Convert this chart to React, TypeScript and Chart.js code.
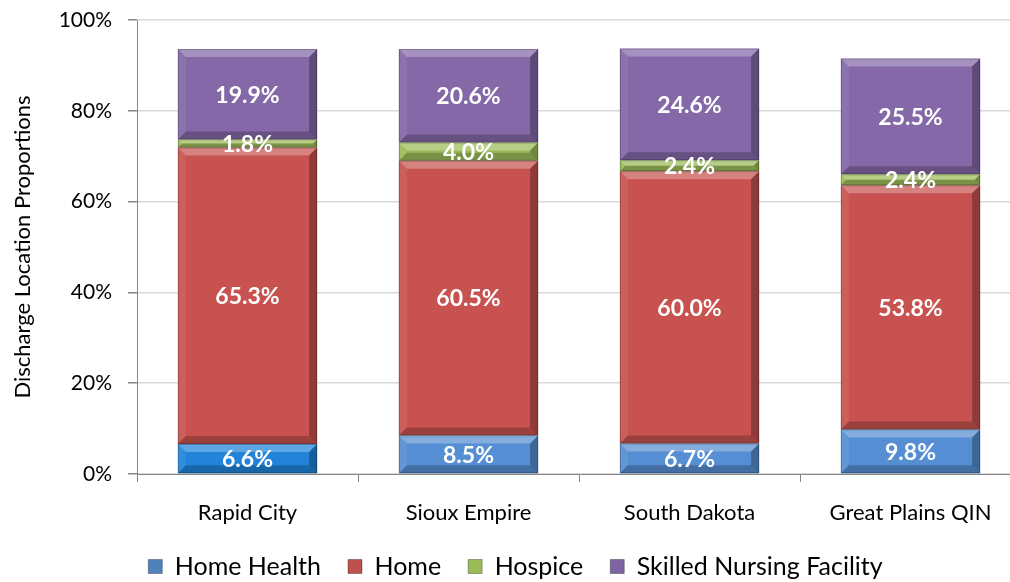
import React, { useEffect, useRef } from "react";
import { Chart, registerables } from "chart.js";

Chart.register(...registerables);

const categories = ["Rapid City", "Sioux Empire", "South Dakota", "Great Plains QIN"];
const seriesNames = ["Home Health", "Home", "Hospice", "Skilled Nursing Facility"];
const homeHealth = [6.6, 8.5, 6.7, 9.8];
const home = [65.3, 60.5, 60.0, 53.8];
const hospice = [1.8, 4.0, 2.4, 2.4];
const snf = [19.9, 20.6, 24.6, 25.5];
const yTicks = [0, 20, 40, 60, 80, 100];

const homeHealthColors = ["#2184d8", "#558ed2", "#558ed2", "#558ed2"];
const legendColors = ["#4f81bd", "#c0504d", "#9bbb59", "#8064a2"];
const FONT = "Lato, 'Noto Sans', sans-serif";

const bevelPlugin = {
  id: "bevelLabels",
  afterDatasetsDraw(chart: any) {
    const ctx = chart.ctx;
    ctx.save();
    chart.data.datasets.forEach((ds: any, di: number) => {
      const meta = chart.getDatasetMeta(di);
      meta.data.forEach((el: any) => {
        const p = el.getProps(["x", "y", "base", "width"], true);
        const l = p.x - p.width / 2;
        const r = p.x + p.width / 2;
        const t = Math.min(p.y, p.base);
        const bt = Math.max(p.y, p.base);
        const h = bt - t;
        const b = Math.min(8, h / 2, p.width / 2);
        const poly = (pts: number[][], fill: string) => {
          ctx.beginPath();
          ctx.moveTo(pts[0][0], pts[0][1]);
          for (let k = 1; k < pts.length; k++) ctx.lineTo(pts[k][0], pts[k][1]);
          ctx.closePath();
          ctx.fillStyle = fill;
          ctx.fill();
        };
        poly([[l, t], [r, t], [r - b, t + b], [l + b, t + b]], "rgba(255,255,255,0.28)");
        poly([[l, t], [l + b, t + b], [l + b, bt - b], [l, bt]], "rgba(255,255,255,0.08)");
        poly([[r, t], [r, bt], [r - b, bt - b], [r - b, t + b]], "rgba(0,0,0,0.28)");
        poly([[l, bt], [r, bt], [r - b, bt - b], [l + b, bt - b]], "rgba(0,0,0,0.22)");
        ctx.strokeStyle = "rgba(0,0,0,0.22)";
        ctx.lineWidth = 1;
        ctx.strokeRect(l + 0.5, t + 0.5, p.width - 1, h - 1);
      });
    });
    chart.data.datasets.forEach((ds: any, di: number) => {
      const meta = chart.getDatasetMeta(di);
      meta.data.forEach((el: any, i: number) => {
        const p = el.getProps(["x", "y", "base"], true);
        const v = ds.data[i];
        ctx.fillStyle = "#ffffff";
        ctx.font = `bold 23px ${FONT}`;
        ctx.textAlign = "center";
        ctx.textBaseline = "middle";
        ctx.fillText(v.toFixed(1) + "%", p.x, (p.y + p.base) / 2 + 1);
      });
    });
    ctx.restore();
  },
};

export default function App() {
  const ref = useRef<HTMLCanvasElement | null>(null);
  useEffect(() => {
    if (!ref.current) return;
    const mk = (label: string, data: number[], color: any) => ({
      label,
      data,
      backgroundColor: color,
      borderWidth: 0,
      categoryPercentage: 1,
      barPercentage: 0.63,
    });
    const chart = new Chart(ref.current, {
      type: "bar",
      data: {
        labels: categories,
        datasets: [
          mk(seriesNames[0], homeHealth, homeHealthColors),
          mk(seriesNames[1], home, "#c7524f"),
          mk(seriesNames[2], hospice, "#9bbb59"),
          mk(seriesNames[3], snf, "#8468a8"),
        ],
      },
      options: {
        animation: false,
        responsive: false,
        maintainAspectRatio: false,
        layout: { padding: { top: 20, left: 10, right: 11, bottom: -7 } },
        plugins: {
          tooltip: { enabled: false },
          legend: {
            position: "bottom",
            labels: {
              color: "#000",
              font: { family: FONT, size: 25 },
              boxWidth: 14,
              boxHeight: 14,
              padding: 27,
              generateLabels: () =>
                seriesNames.map((n, i) => ({
                  text: n,
                  fillStyle: legendColors[i],
                  strokeStyle: "rgba(0,0,0,0.3)",
                  lineWidth: 1,
                  datasetIndex: i,
                  hidden: false,
                })),
            },
          },
        },
        scales: {
          x: {
            stacked: true,
            border: { color: "#868686", width: 1 },
            grid: {
              offset: true,
              drawOnChartArea: false,
              drawTicks: true,
              tickLength: 8,
              tickColor: "#868686",
            },
            ticks: { color: "#000", font: { family: FONT, size: 22 }, padding: 18 },
            afterFit: (s: any) => {
              s.height = 53;
            },
          },
          y: {
            stacked: true,
            min: 0,
            max: 100,
            border: { color: "#868686", width: 1 },
            grid: { color: "#d9d9d9", tickColor: "#868686", tickLength: 9, lineWidth: 1.5 },
            afterBuildTicks: (s: any) => {
              s.ticks = yTicks.map((v) => ({ value: v }));
            },
            afterFit: (s: any) => {
              s.width = 127;
              s.paddingTop = 0;
              s.paddingBottom = 0;
            },
            ticks: {
              color: "#000",
              font: { family: FONT, size: 21 },
              padding: 16,
              callback: (v: any) => v + "%",
            },
            title: {
              display: true,
              text: "Discharge Location Proportions",
              color: "#000",
              font: { family: FONT, size: 22 },
              padding: { top: 0, bottom: 10 },
            },
          },
        },
      },
      plugins: [bevelPlugin],
    });
    return () => chart.destroy();
  }, []);
  return (
    <div style={{ position: "fixed", left: 0, top: 0, width: 1010, height: 582, overflow: "hidden", background: "#fff" }}>
      <canvas ref={ref} width={1032} height={582} style={{ width: 1032, height: 582, display: "block" }} />
    </div>
  );
}
